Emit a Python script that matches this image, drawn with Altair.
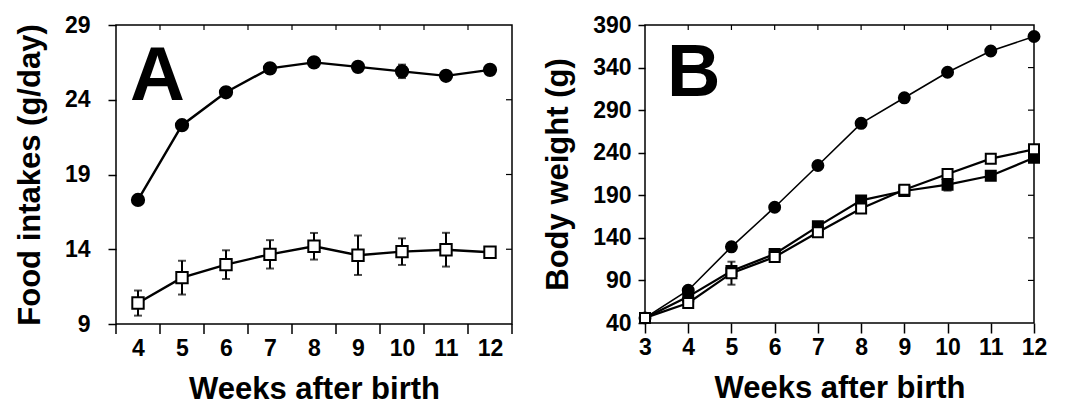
import altair as alt
import pandas as pd

# ---------------- data ----------------
weeks_a = [4, 5, 6, 7, 8, 9, 10, 11, 12]
food_circle = [17.3, 22.3, 24.5, 26.1, 26.5, 26.2, 25.9, 25.6, 26.0]
food_circle_err = [0.0, 0.0, 0.3, 0.0, 0.0, 0.0, 0.45, 0.0, 0.0]
food_square = [10.4, 12.1, 12.97, 13.66, 14.2, 13.6, 13.84, 13.97, 13.8]
food_square_err = [0.84, 1.13, 0.96, 0.95, 0.89, 1.32, 0.89, 1.13, 0.25]

weeks_b = [3, 4, 5, 6, 7, 8, 9, 10, 11, 12]
bw_circle = [46, 78.5, 129.5, 176, 225, 274.5, 304.5, 334.5, 359.5, 376.5]
bw_circle_err = [0, 0, 0, 0, 0, 0, 0, 0, 0, 0]
bw_filled = [46, 71, 101, 121, 153.5, 184, 195, 202.5, 213, 234]
bw_filled_err = [0, 0, 0, 0, 0, 0, 0, 7, 0, 0]
bw_open = [46, 63.5, 98.5, 117.5, 146.5, 174.5, 196.5, 215, 233, 244]
bw_open_err = [0, 4, 13.5, 0, 0, 0, 0, 0, 0, 0]

a_ticks_x = [3.5, 4.5, 5.5, 6.5, 7.5, 8.5, 9.5, 10.5, 11.5, 12.5]
a_top_ticks = [4.5, 5.5, 6.5, 7.5, 8.5, 9.5, 10.5, 11.5]
a_y_values = [9, 14, 19, 24, 29]
a_right_ticks = [14, 19, 24]
b_x_values = [3, 4, 5, 6, 7, 8, 9, 10, 11, 12]
b_top_ticks = [4, 5, 6, 7, 8, 9, 10, 11]
b_y_values = [40, 90, 140, 190, 240, 290, 340, 390]
b_right_ticks = [90, 140, 190, 240, 290, 340]

FONT = "Liberation Sans"
WA, HA = 396, 299
WB, HB = 389, 298

# ---------------- scales / axes ----------------
xsA = alt.Scale(domain=[3.5, 12.5], nice=False, zero=False)
ysA = alt.Scale(domain=[9, 29], nice=False, zero=False)
axXA = alt.Axis(values=weeks_a, ticks=False, domain=False, grid=False,
                labelPadding=13, titlePadding=14, format="d")
axYA = alt.Axis(values=a_y_values, tickSize=8, domain=False, grid=False,
                labelPadding=18, titlePadding=18)
TXA, TYA = "Weeks after birth", "Food intakes (g/day)"

xsB = alt.Scale(domain=[3, 12], nice=False, zero=False)
ysB = alt.Scale(domain=[40, 390], nice=False, zero=False)
axXB = alt.Axis(values=b_x_values, tickSize=10, domain=False, grid=False,
                labelPadding=3, titlePadding=14, format="d")
axYB = alt.Axis(values=b_y_values, tickSize=7, domain=False, grid=False,
                labelPadding=7, titlePadding=18)
TXB, TYB = "Weeks after birth", "Body weight (g)"


def series_df(x, y, e):
    return pd.DataFrame({"x": x, "y": y, "lo": [a - b for a, b in zip(y, e)],
                         "hi": [a + b for a, b in zip(y, e)]})


def series_layers(df, X, Y, shape, filled, size, line_w):
    base = alt.Chart(df)
    line = base.mark_line(color="black", strokeWidth=line_w).encode(x=X("x"), y=Y("y"))
    eb = df[df["hi"] > df["y"]]
    bars = alt.Chart(eb).mark_rule(color="black", strokeWidth=2).encode(
        x=X("x"), y=Y("lo"), y2="hi:Q")
    cap_lo = alt.Chart(eb).mark_tick(color="black", orient="horizontal", size=8, thickness=2).encode(
        x=X("x"), y=Y("lo"))
    cap_hi = alt.Chart(eb).mark_tick(color="black", orient="horizontal", size=8, thickness=2).encode(
        x=X("x"), y=Y("hi"))
    pts = base.mark_point(shape=shape, filled=True, size=size,
                          fill="black" if filled else "white", stroke="black",
                          strokeWidth=2, opacity=1).encode(x=X("x"), y=Y("y"))
    return [line, bars, cap_lo, cap_hi, pts]


def XA(f):
    return alt.X(f + ":Q", scale=xsA, axis=axXA, title=TXA)


def YA(f):
    return alt.Y(f + ":Q", scale=ysA, axis=axYA, title=TYA)


def XB(f):
    return alt.X(f + ":Q", scale=xsB, axis=axXB, title=TXB)


def YB(f):
    return alt.Y(f + ":Q", scale=ysB, axis=axYB, title=TYB)


# ---------------- panel A ----------------
bot_a = alt.Chart(pd.DataFrame({"t": a_ticks_x})).mark_rule(color="black", strokeWidth=1.5).encode(
    x=XA("t"), y=alt.value(HA), y2=alt.value(HA + 10))
top_a = alt.Chart(pd.DataFrame({"t": a_top_ticks})).mark_rule(color="black", strokeWidth=1.2).encode(
    x=XA("t"), y=alt.value(0), y2=alt.value(5))
right_a = alt.Chart(pd.DataFrame({"t": a_right_ticks})).mark_rule(color="black", strokeWidth=1.2).encode(
    y=YA("t"), x=alt.value(WA - 6), x2=alt.value(WA))

letter_a = alt.Chart(pd.DataFrame({"label": ["A"]})).mark_text(
    font=FONT, fontWeight="bold", fontSize=76, align="left", baseline="alphabetic", color="black"
).encode(text="label:N", x=alt.value(14), y=alt.value(75))

layers_a = [bot_a, top_a, right_a]
layers_a += series_layers(series_df(weeks_a, food_square, food_square_err), XA, YA, "square", False, 130, 2.4)
layers_a += series_layers(series_df(weeks_a, food_circle, food_circle_err), XA, YA, "circle", True, 150, 2.4)
layers_a.append(letter_a)
panel_a = alt.layer(*layers_a).properties(width=WA, height=HA)

# ---------------- panel B ----------------
top_b = alt.Chart(pd.DataFrame({"t": b_top_ticks})).mark_rule(color="black", strokeWidth=1.2).encode(
    x=XB("t"), y=alt.value(0), y2=alt.value(5))
right_b = alt.Chart(pd.DataFrame({"t": b_right_ticks})).mark_rule(color="black", strokeWidth=1.2).encode(
    y=YB("t"), x=alt.value(WB - 6), x2=alt.value(WB))

letter_b = alt.Chart(pd.DataFrame({"label": ["B"]})).mark_text(
    font=FONT, fontWeight="bold", fontSize=74, align="left", baseline="alphabetic", color="black"
).encode(text="label:N", x=alt.value(22), y=alt.value(71))

layers_b = [top_b, right_b]
layers_b += series_layers(series_df(weeks_b, bw_circle, bw_circle_err), XB, YB, "circle", True, 120, 1.6)
layers_b += series_layers(series_df(weeks_b, bw_filled, bw_filled_err), XB, YB, "square", True, 100, 2.2)
layers_b += series_layers(series_df(weeks_b, bw_open, bw_open_err), XB, YB, "square", False, 100, 2.2)
layers_b.append(letter_b)
panel_b = alt.layer(*layers_b).properties(width=WB, height=HB)

chart = alt.hconcat(panel_a, panel_b, spacing=27).configure_view(
    stroke="black", strokeWidth=1.5
).configure_axis(
    labelFont=FONT, labelFontWeight="bold", labelFontSize=23, labelColor="black",
    titleFont=FONT, titleFontWeight="bold", titleFontSize=31, titleColor="black",
    tickColor="black", tickWidth=1.5, labelFlush=False, labelOverlap=False
).properties(background="white")

chart.save("out.html", embed_options={"renderer": "svg", "actions": False})
